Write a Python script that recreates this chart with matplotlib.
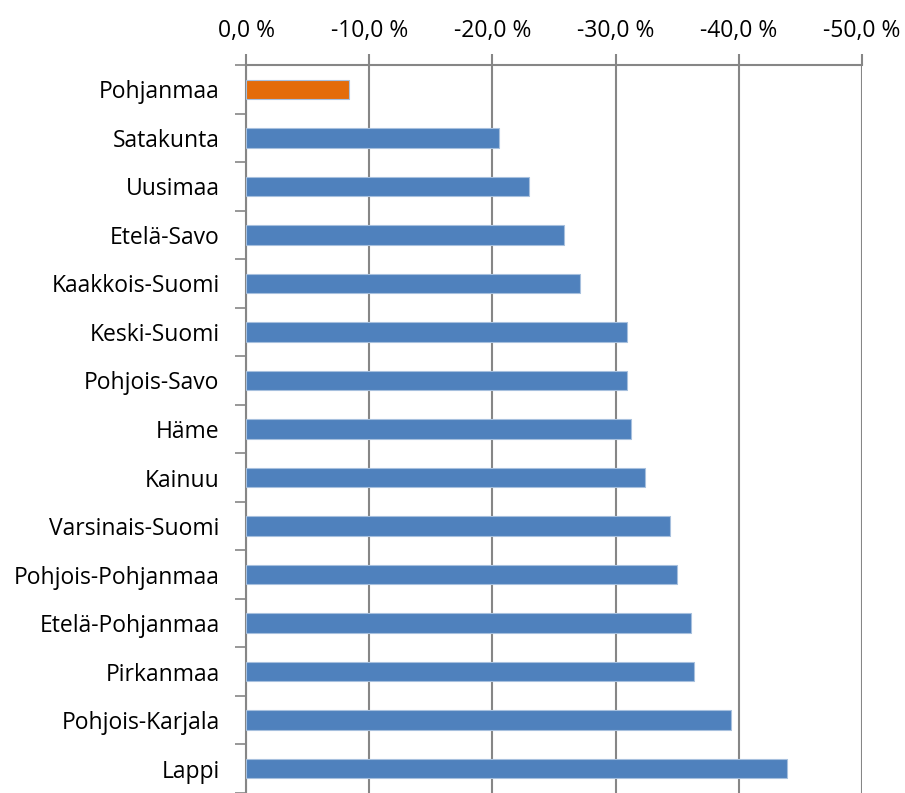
import matplotlib.pyplot as plt
import numpy as np
from matplotlib.ticker import FuncFormatter, FixedLocator

regions = ["Pohjanmaa", "Satakunta", "Uusimaa", "Etelä-Savo", "Kaakkois-Suomi",
           "Keski-Suomi", "Pohjois-Savo", "Häme", "Kainuu", "Varsinais-Suomi",
           "Pohjois-Pohjanmaa", "Etelä-Pohjanmaa", "Pirkanmaa", "Pohjois-Karjala", "Lappi"]
change = [-8.4, -20.5, -23.0, -25.8, -27.1, -30.9, -30.9, -31.25, -32.4, -34.4,
          -35.0, -36.1, -36.4, -39.4, -43.9]
highlight = "Pohjanmaa"

plt.rcParams['font.family'] = ['Open Sans', 'DejaVu Sans']

fig = plt.figure(figsize=(9.05, 7.93), dpi=100)
ax = fig.add_axes([246 / 905, 0, (862 - 246) / 905, 1 - 65 / 793])

grey = "#868686"
colors = ["#E46C0A" if r == highlight else "#4F81BD" for r in regions]
y = np.arange(len(regions))
ax.barh(y, change, height=0.4, color=colors, edgecolor="#A7C0DE", linewidth=0.8, zorder=3)

ax.set_xlim(0, -50)
ax.set_ylim(len(regions) - 0.5, -0.5)
ax.xaxis.tick_top()
ax.set_xticks(np.arange(0, -51, -10))
ax.xaxis.set_major_formatter(FuncFormatter(lambda v, p: f"{v:.1f} %".replace(".", ",") if v != 0 else "0,0 %"))
ax.grid(axis="x", color=grey, linewidth=1.5, zorder=0)

ax.set_yticks(y)
ax.set_yticklabels(regions)
ax.yaxis.set_minor_locator(FixedLocator(np.arange(-0.5, len(regions), 1)))
ax.tick_params(axis="y", which="major", length=0, pad=19, labelsize=16.5)
ax.tick_params(axis="y", which="minor", length=8, width=1.2, color=grey)
ax.tick_params(axis="x", length=8, width=1.5, color=grey, labelsize=16.5, pad=8)

for s in ["right", "bottom"]:
    ax.spines[s].set_visible(False)
for s in ["top", "left"]:
    ax.spines[s].set_color(grey)
    ax.spines[s].set_linewidth(1.5)

fig.savefig("out.png", dpi=100)
